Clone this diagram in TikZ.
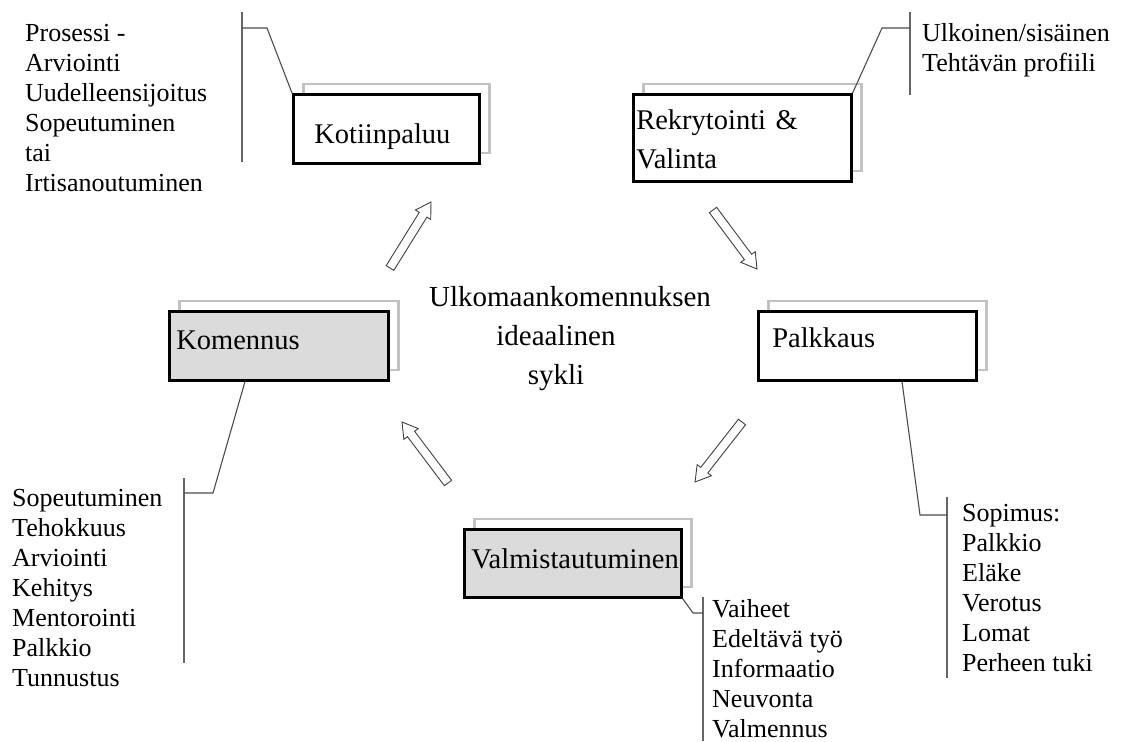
\documentclass[tikz,border=0pt]{standalone}
\usepackage{fontspec}
\setmainfont{Liberation Serif}
\usetikzlibrary{positioning}
\usetikzlibrary{calc}
\usetikzlibrary{shadows}

\newcommand{\listfont}{\fontsize{26}{30}\selectfont}
\newcommand{\boxfont}{\fontsize{28.5}{39}\selectfont}

% hollow block arrow between two named points
\newcommand{\cyclearrow}[2]{%
  \draw[arrowline] let \p1=(#1), \p2=(#2),
      \n1={atan2(\y2-\y1,\x2-\x1)}, \n2={veclen(\x2-\x1,\y2-\y1)} in
    [shift={(\p1)}, rotate=\n1]
    (0pt,-4.5pt) -- ({(\n2-15)*1pt},-4.5pt) -- ({(\n2-15)*1pt},-9pt) -- ({\n2*1pt},0pt)
    -- ({(\n2-15)*1pt},9pt) -- ({(\n2-15)*1pt},4.5pt) -- (0pt,4.5pt) -- cycle;
}

\tikzset{
  cyclebox/.style={draw, line width=2.6pt, anchor=north west, inner ysep=0pt,
    align=left, font=\boxfont, fill=white,
    copy shadow={shadow xshift=10pt, shadow yshift=10.5pt, draw=black!24,
      line width=2.4pt, fill=white}},
  greybox/.style={cyclebox, fill=black!14},
  itemlist/.style={anchor=north west, inner sep=0pt, align=left, font=\listfont},
  leader/.style={draw=black!70, line width=1.1pt},
  bar/.style={draw=black!60, line width=1.6pt},
  arrowline/.style={draw=black!75, line width=0.9pt, fill=white},
}

\begin{document}
\begin{tikzpicture}[x=1pt,y=-1pt]
  \useasboundingbox (0,0) rectangle (1123,741);

  % the five phases
  \node[cyclebox, inner xsep=21pt, text width=144pt, text height=49pt, text depth=20pt]
    (koti) at (292,93) {Kotiinpaluu};
  \node[cyclebox, inner xsep=3pt, text width=212pt, text height=35pt, text depth=52pt]
    (rekry) at (632,93) {Rekrytointi \&\\Valinta};
  \node[greybox, inner xsep=7pt, text width=205pt, text height=38pt, text depth=31pt]
    (komennus) at (168,310) {Komennus};
  \node[cyclebox, inner xsep=14pt, text width=190pt, text height=36pt, text depth=33pt]
    (palkkaus) at (757,310) {Palkkaus};
  \node[greybox, inner xsep=7pt, text width=203pt, text height=39pt, text depth=29pt]
    (valmis) at (463,528) {Valmistautuminen};

  \node[font=\fontsize{29}{39}\selectfont, align=center, anchor=north, inner sep=0pt]
    (sykli) at (570,286) {Ulkomaankomennuksen\\ideaalinen\kern28pt\\sykli\kern28pt};

  % item lists
  \node[itemlist] (kotilist) at (25,24)
    {Prosessi -\\Arviointi\\Uudelleensijoitus\\Sopeutuminen\\tai\\Irtisanoutuminen};
  \node[itemlist] (rekrylist) at (922,23) {Ulkoinen/sisäinen\\Tehtävän profiili};
  \node[itemlist] (komlist) at (12,489)
    {Sopeutuminen\\Tehokkuus\\Arviointi\\Kehitys\\Mentorointi\\Palkkio\\Tunnustus};
  \node[itemlist] (palklist) at (962,504)
    {Sopimus:\\Palkkio\\Eläke\\Verotus\\Lomat\\Perheen tuki};
  \node[itemlist] (valmlist) at (712,599)
    {Vaiheet\\Edeltävä työ\\Informaatio\\Neuvonta\\Valmennus};

  % brackets
  \coordinate (kotiA) at (242,12);  \coordinate (kotiB) at (242,162);  \coordinate (kotiK) at (267,28);
  \coordinate (rekA) at (910,12);   \coordinate (rekB) at (910,95);    \coordinate (rekK) at (882,28);
  \coordinate (komA) at (184,478);  \coordinate (komB) at (184,663);   \coordinate (komK) at (213,493);
  \coordinate (palA) at (947,497);  \coordinate (palB) at (947,678);   \coordinate (palK) at (920,515);
  \coordinate (valA) at (703,597);  \coordinate (valB) at (703,741);   \coordinate (valK) at (693,613);

  \draw[bar] (kotiA) -- (kotiB);
  \draw[bar] (rekA) -- (rekB);
  \draw[bar] (komA) -- (komB);
  \draw[bar] (palA) -- (palB);
  \draw[bar] (valA) -- (valB);

  \draw[leader] (koti.north west) -- (kotiK) -- (kotiK -| kotiA);
  \draw[leader] (rekry.north east) -- (rekK) -- (rekK -| rekA);
  \draw[leader] ([xshift=77pt]komennus.south west) -- (komK) -- (komK -| komA);
  \draw[leader] ([xshift=145pt]palkkaus.south west) -- (palK) -- (palK -| palA);
  \draw[leader] (valmis.south east) -- (valK) -- (valK -| valA);

  % cycle arrows
  \coordinate (a1) at (390,268); \coordinate (b1) at (431,202);
  \coordinate (a2) at (713,210); \coordinate (b2) at (757,269);
  \coordinate (a3) at (742,422); \coordinate (b3) at (695,482);
  \coordinate (a4) at (448,483); \coordinate (b4) at (402,422);
  \cyclearrow{a1}{b1}
  \cyclearrow{a2}{b2}
  \cyclearrow{a3}{b3}
  \cyclearrow{a4}{b4}
\end{tikzpicture}
\end{document}
